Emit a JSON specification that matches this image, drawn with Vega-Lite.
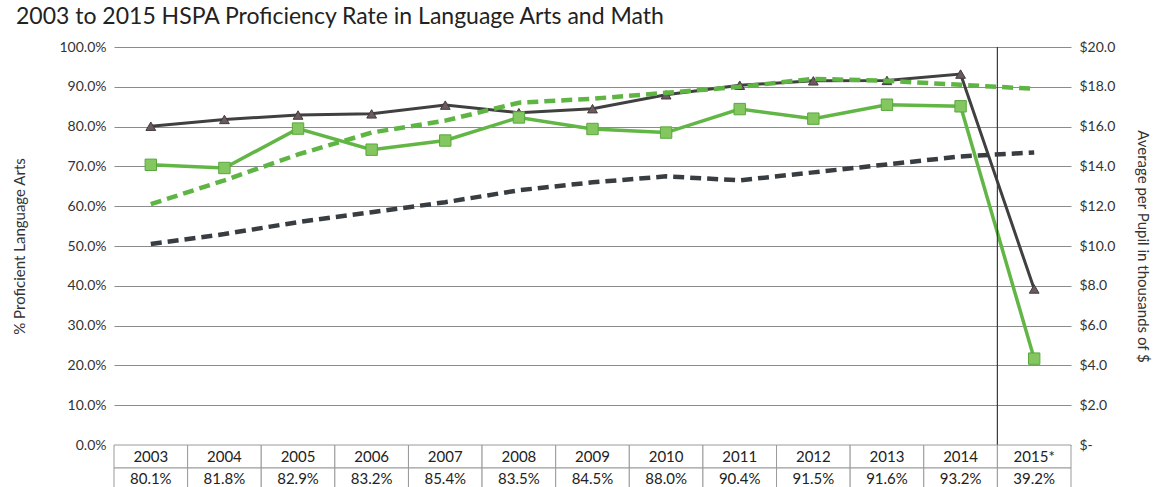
{
  "$schema": "https://vega.github.io/schema/vega-lite/v6.json",
  "background": "white",
  "padding": {"left": 12, "top": 6, "right": 5, "bottom": 0},
  "bounds": "flush",
  "spacing": 0,
  "config": {"font": "Lato", "view": {"stroke": null}},
  "title": {"text": "2003 to 2015 HSPA Proficiency Rate in Language Arts and Math", "anchor": "start", "frame": "bounds", "fontSize": 23, "fontWeight": "normal", "color": "#222", "offset": 11, "dx": 3},
  "datasets": {
    "d": [
      {"year": "2003", "la": 0.801, "math": 0.704, "spendG": 12.1, "spendD": 10.1},
      {"year": "2004", "la": 0.818, "math": 0.696, "spendG": 13.3, "spendD": 10.6},
      {"year": "2005", "la": 0.829, "math": 0.795, "spendG": 14.6, "spendD": 11.2},
      {"year": "2006", "la": 0.832, "math": 0.742, "spendG": 15.7, "spendD": 11.7},
      {"year": "2007", "la": 0.854, "math": 0.765, "spendG": 16.3, "spendD": 12.2},
      {"year": "2008", "la": 0.835, "math": 0.823, "spendG": 17.2, "spendD": 12.8},
      {"year": "2009", "la": 0.845, "math": 0.794, "spendG": 17.4, "spendD": 13.2},
      {"year": "2010", "la": 0.880, "math": 0.785, "spendG": 17.7, "spendD": 13.5},
      {"year": "2011", "la": 0.904, "math": 0.844, "spendG": 18.0, "spendD": 13.3},
      {"year": "2012", "la": 0.915, "math": 0.820, "spendG": 18.4, "spendD": 13.7},
      {"year": "2013", "la": 0.916, "math": 0.855, "spendG": 18.3, "spendD": 14.1},
      {"year": "2014", "la": 0.932, "math": 0.851, "spendG": 18.1, "spendD": 14.5},
      {"year": "2015*", "la": 0.392, "math": 0.217, "spendG": 17.9, "spendD": 14.7}
    ]
  },
  "vconcat": [
    {
      "width": 957,
      "height": 398,
      "data": {"name": "d"},
      "layer": [
        {
          "layer": [
            {
              "mark": {"type": "line", "color": "#404040", "strokeWidth": 3, "point": {"shape": "triangle-up", "filled": true, "size": 95, "fill": "#6e5a5c", "stroke": "#3d3d3d", "strokeWidth": 1}},
              "encoding": {
                "x": {"field": "year", "type": "ordinal", "scale": {"type": "band", "paddingInner": 0, "paddingOuter": 0, "domain": ["2003", "2004", "2005", "2006", "2007", "2008", "2009", "2010", "2011", "2012", "2013", "2014", "2015*"]}, "axis": null},
                "y": {"field": "la", "type": "quantitative", "scale": {"domain": [0, 1]},
                  "axis": {"title": "% Proficient Language Arts", "format": ".1%", "values": [0, 0.1, 0.2, 0.3, 0.4, 0.5, 0.6, 0.7, 0.8, 0.9, 1.0], "labelOverlap": false, "grid": true, "gridColor": "#8c8c8c", "gridWidth": 1, "domain": false, "ticks": false, "labelFontSize": 14, "labelColor": "#333", "labelPadding": 8, "titleFontSize": 15, "titleFontWeight": "normal", "titleColor": "#333", "titlePadding": 31}}
              }
            },
            {
              "mark": {"type": "line", "color": "#62b646", "strokeWidth": 3.5, "point": {"shape": "square", "filled": true, "size": 130, "fill": "#84c65f", "stroke": "#58a83c", "strokeWidth": 1}},
              "encoding": {
                "x": {"field": "year", "type": "ordinal", "scale": {"type": "band", "paddingInner": 0, "paddingOuter": 0, "domain": ["2003", "2004", "2005", "2006", "2007", "2008", "2009", "2010", "2011", "2012", "2013", "2014", "2015*"]}, "axis": null},
                "y": {"field": "math", "type": "quantitative", "scale": {"domain": [0, 1]},
                  "axis": {"title": "% Proficient Language Arts", "format": ".1%", "values": [0, 0.1, 0.2, 0.3, 0.4, 0.5, 0.6, 0.7, 0.8, 0.9, 1.0], "labelOverlap": false, "grid": true, "gridColor": "#8c8c8c", "gridWidth": 1, "domain": false, "ticks": false, "labelFontSize": 14, "labelColor": "#333", "labelPadding": 8, "titleFontSize": 15, "titleFontWeight": "normal", "titleColor": "#333", "titlePadding": 31}}
              }
            },
            {
              "transform": [{"filter": "datum.year == '2015*'"}],
              "mark": {"type": "rule", "color": "#3a3a3a", "strokeWidth": 1.2},
              "encoding": {
                "x": {"field": "year", "type": "ordinal", "bandPosition": 0, "scale": {"type": "band", "paddingInner": 0, "paddingOuter": 0, "domain": ["2003", "2004", "2005", "2006", "2007", "2008", "2009", "2010", "2011", "2012", "2013", "2014", "2015*"]}, "axis": null}
              }
            }
          ]
        },
        {
          "layer": [
            {
              "mark": {"type": "line", "color": "#5fb543", "strokeWidth": 4.5, "strokeDash": [11, 6]},
              "encoding": {
                "x": {"field": "year", "type": "ordinal", "scale": {"type": "band", "paddingInner": 0, "paddingOuter": 0, "domain": ["2003", "2004", "2005", "2006", "2007", "2008", "2009", "2010", "2011", "2012", "2013", "2014", "2015*"]}, "axis": null},
                "y": {"field": "spendG", "type": "quantitative", "scale": {"domain": [0, 20]},
                  "axis": {"orient": "right", "title": "Average per Pupil  in thousands of $", "titleAngle": 90, "values": [0, 2, 4, 6, 8, 10, 12, 14, 16, 18, 20], "labelOverlap": false, "labelExpr": "datum.value == 0 ? '$-' : '$' + format(datum.value, '.1f')", "grid": false, "domain": false, "ticks": false, "labelFontSize": 14, "labelColor": "#333", "labelPadding": 8, "titleFontSize": 15, "titleFontWeight": "normal", "titleColor": "#333", "titlePadding": 20}}
              }
            },
            {
              "mark": {"type": "line", "color": "#383d42", "strokeWidth": 4.5, "strokeDash": [11, 6]},
              "encoding": {
                "x": {"field": "year", "type": "ordinal", "scale": {"type": "band", "paddingInner": 0, "paddingOuter": 0, "domain": ["2003", "2004", "2005", "2006", "2007", "2008", "2009", "2010", "2011", "2012", "2013", "2014", "2015*"]}, "axis": null},
                "y": {"field": "spendD", "type": "quantitative", "scale": {"domain": [0, 20]},
                  "axis": {"orient": "right", "title": "Average per Pupil  in thousands of $", "titleAngle": 90, "values": [0, 2, 4, 6, 8, 10, 12, 14, 16, 18, 20], "labelOverlap": false, "labelExpr": "datum.value == 0 ? '$-' : '$' + format(datum.value, '.1f')", "grid": false, "domain": false, "ticks": false, "labelFontSize": 14, "labelColor": "#333", "labelPadding": 8, "titleFontSize": 15, "titleFontWeight": "normal", "titleColor": "#333", "titlePadding": 20}}
              }
            }
          ]
        }
      ],
      "resolve": {"scale": {"y": "independent"}}
    },
    {
      "width": 957,
      "height": 23,
      "data": {"name": "d"},
      "layer": [
        {
          "mark": {"type": "rect", "fill": "white", "stroke": "#9a9a9a", "strokeWidth": 1},
          "encoding": {"x": {"field": "year", "type": "ordinal", "sort": null, "scale": {"type": "band", "paddingInner": 0, "paddingOuter": 0}, "axis": null}}
        },
        {
          "mark": {"type": "text", "fontSize": 15, "color": "#222"},
          "encoding": {
            "x": {"field": "year", "type": "ordinal", "sort": null, "scale": {"type": "band", "paddingInner": 0, "paddingOuter": 0}, "axis": null},
            "text": {"field": "year"}
          }
        }
      ]
    },
    {
      "width": 957,
      "height": 21,
      "data": {"name": "d"},
      "layer": [
        {
          "mark": {"type": "rect", "fill": "white", "stroke": "#9a9a9a", "strokeWidth": 1},
          "encoding": {"x": {"field": "year", "type": "ordinal", "sort": null, "scale": {"type": "band", "paddingInner": 0, "paddingOuter": 0}, "axis": null}}
        },
        {
          "mark": {"type": "text", "fontSize": 15, "color": "#222"},
          "encoding": {
            "x": {"field": "year", "type": "ordinal", "sort": null, "scale": {"type": "band", "paddingInner": 0, "paddingOuter": 0}, "axis": null},
            "text": {"field": "la", "type": "quantitative", "format": ".1%"}
          }
        }
      ]
    }
  ]
}
